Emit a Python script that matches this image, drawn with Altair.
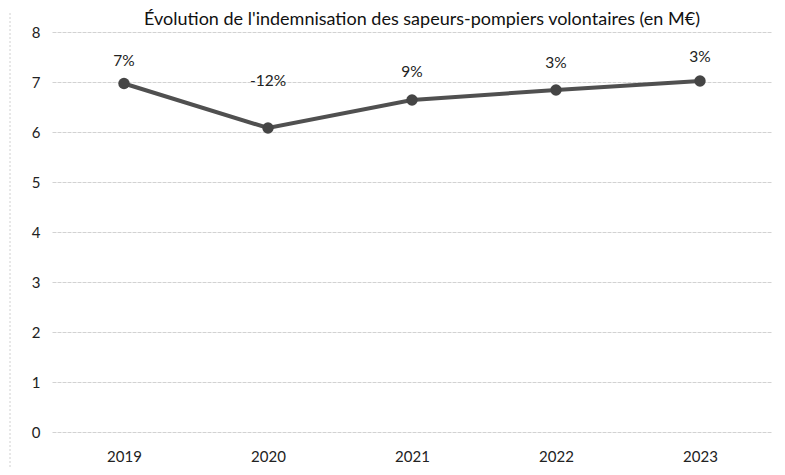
import altair as alt
import pandas as pd

years = ["2019", "2020", "2021", "2022", "2023"]
values = [6.97, 6.08, 6.64, 6.84, 7.02]
labels = ["7%", "-12%", "9%", "3%", "3%"]
label_pos = [7.42, 7.02, 7.2, 7.38, 7.5]
title_text = "Évolution de l'indemnisation des sapeurs-pompiers volontaires (en M€)"

df = pd.DataFrame({"year": years, "value": values, "label": labels, "label_y": label_pos})

FONT = "Lato"
xs = alt.X("year:O", scale=alt.Scale(type="point", padding=0.5), sort=years,
           axis=alt.Axis(title=None, labelAngle=0, domain=False, ticks=False, grid=False,
                         labelFontSize=15, labelColor="#222", labelPadding=17, labelFont=FONT))
ys = alt.Y("value:Q", scale=alt.Scale(domain=[0, 8], nice=False),
           axis=alt.Axis(title=None, values=list(range(0, 9)), domain=False, ticks=False,
                         labelFontSize=15, labelColor="#222", labelPadding=12, labelFont=FONT,
                         grid=True, gridColor="#d2d2d2", gridWidth=1, gridDash=[4, 1]))

line = alt.Chart(df).mark_line(color="#505050", strokeWidth=4).encode(x=xs, y=ys)
pts = alt.Chart(df).mark_circle(color="#454545", size=130, opacity=1).encode(x=xs, y="value:Q")
txt = alt.Chart(df).mark_text(fontSize=15.5, color="#222", font=FONT, baseline="middle").encode(
    x=xs, y="label_y:Q", text="label:N")
title = alt.Chart(pd.DataFrame({"t": [title_text]})).mark_text(
    fontSize=18, color="#111", font=FONT, align="center", baseline="alphabetic").encode(
    x=alt.value(370), y=alt.value(-7), text="t:N")
frame_left = alt.Chart(pd.DataFrame({"a": [0]})).mark_rule(
    color="#d0d0d0", strokeDash=[2, 2], strokeWidth=1).encode(
    x=alt.value(-42), y=alt.value(-19), y2=alt.value(440))

chart = alt.layer(frame_left, line, pts, txt, title).properties(
    width=720, height=400,
    autosize=alt.AutoSizeParams(type="none"),
    padding={"left": 44, "top": 24, "right": 5, "bottom": 35},
).configure(background="white").configure_view(stroke=None, strokeWidth=0)

chart.save("out.html", embed_options={"renderer": "svg", "actions": False})
